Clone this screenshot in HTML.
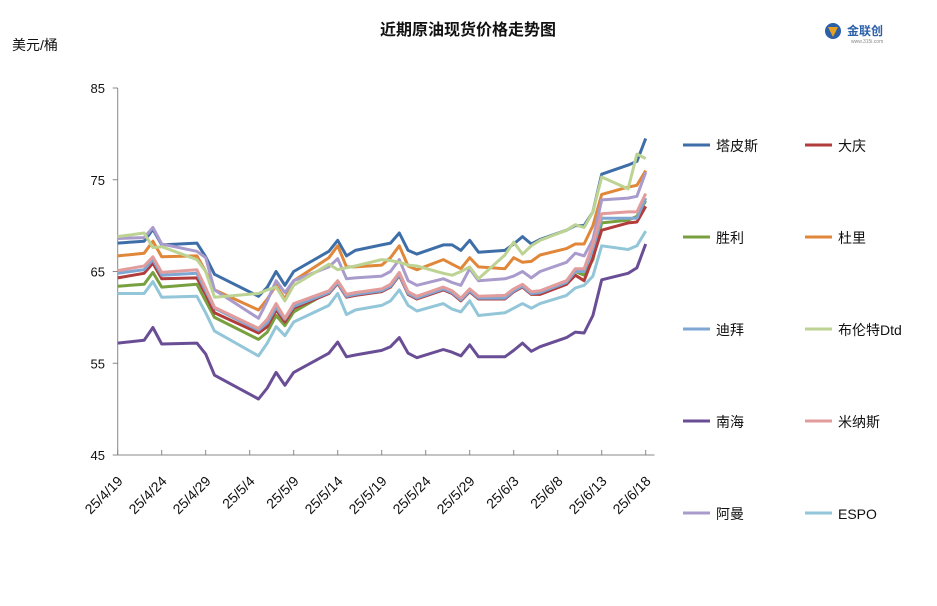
<!DOCTYPE html>
<html><head><meta charset="utf-8">
<style>
body{margin:0;background:#fff;}
svg text{font-family:"Liberation Sans","Noto Sans CJK SC",sans-serif;}
</style></head>
<body>
<svg id="chart" width="937" height="601" viewBox="0 0 937 601" xmlns="http://www.w3.org/2000/svg">
<rect width="937" height="601" fill="#fff"/>
<text x="468" y="35" text-anchor="middle" font-size="16" font-weight="bold" fill="#111">近期原油现货价格走势图</text>
<text x="12" y="50" font-size="14" fill="#111">美元/桶</text>
<g>
<circle cx="833" cy="31" r="8" fill="#2b5fa8"/>
<path d="M828 27 L838 27 L833 37 Z" fill="#e8a020"/>
<text x="847" y="35" font-size="12" font-weight="bold" fill="#2b5fa8">金联创</text>
<text x="851" y="43" font-size="5" fill="#888">www.315i.com</text>
</g>
<g id="axes"></g>
<g id="series"></g>
<g id="legend"></g>
</svg>
<script>
const days=[0,3,4,5,9,10,11,16,17,18,19,20,24,25,26,27,30,31,32,33,34,37,38,39,40,41,44,45,46,47,48,51,52,53,54,55,58,59,60];
const tickLabels=["25/4/19","25/4/24","25/4/29","25/5/4","25/5/9","25/5/14","25/5/19","25/5/24","25/5/29","25/6/3","25/6/8","25/6/13","25/6/18"];
const yTicks=[45,55,65,75,85];
const seriesNames=["塔皮斯","大庆","胜利","杜里","迪拜","布伦特Dtd","南海","米纳斯","阿曼","ESPO"];
const tapis=[68.1,68.3,69.6,67.9,68.1,66.6,64.7,62.3,63.3,65.0,63.5,65.0,67.2,68.4,66.7,67.3,67.9,68.1,69.2,67.3,66.9,67.9,67.9,67.3,68.4,67.1,67.3,68.0,68.8,68.0,68.5,69.5,70.0,70.0,71.5,75.6,76.6,77.0,79.5];
const daqing=[64.3,64.8,65.9,64.2,64.3,62.5,60.5,58.3,59.0,60.8,59.5,61.0,62.6,63.7,62.2,62.4,62.8,63.3,64.6,62.5,62.0,63.0,62.6,61.8,62.8,62.0,62.0,62.8,63.3,62.5,62.5,63.6,64.6,64.0,66.5,69.5,70.3,70.4,72.1];
const shengli=[63.4,63.6,64.9,63.3,63.6,61.8,60.0,57.6,58.4,60.2,59.1,60.6,62.8,63.8,62.4,62.7,63.0,63.3,64.6,62.7,62.3,63.2,62.8,62.0,62.9,62.2,62.3,62.8,63.4,62.7,62.8,63.9,65.0,64.6,66.3,70.3,70.6,71.0,72.7];
const duri=[66.7,67.0,68.3,66.6,66.7,65.0,63.0,60.8,62.0,63.5,62.0,64.0,66.5,67.8,65.5,65.5,65.7,66.5,67.8,65.6,65.2,66.3,65.8,65.3,66.5,65.5,65.3,66.5,66.0,66.1,66.8,67.5,68.0,68.0,70.0,73.4,74.2,74.4,76.0];
const dubai=[64.8,65.2,66.3,64.6,64.8,62.9,61.0,58.6,59.4,61.1,59.8,61.2,62.7,63.8,62.3,62.5,62.9,63.4,64.7,62.6,62.1,63.1,62.7,61.9,62.9,62.1,62.1,62.9,63.4,62.6,62.7,63.8,65.0,65.0,67.5,70.8,70.8,70.8,73.0];
const brent=[68.8,69.2,67.6,67.7,66.3,65.0,62.2,62.6,63.0,63.3,61.8,63.5,65.8,65.2,65.4,65.6,66.3,66.2,66.0,65.7,65.6,64.8,64.6,65.0,65.5,64.2,66.8,68.2,66.9,67.8,68.4,69.5,70.1,69.8,71.5,75.3,74.0,77.8,77.3];
const nanhai=[57.2,57.5,58.9,57.1,57.2,56.0,53.7,51.1,52.3,54.0,52.6,54.0,56.1,57.3,55.7,55.9,56.4,56.8,57.8,56.1,55.6,56.5,56.2,55.8,57.0,55.7,55.7,56.4,57.2,56.3,56.8,57.8,58.4,58.3,60.2,64.1,64.8,65.4,68.0];
const minas=[65.1,65.6,66.6,64.9,65.2,63.2,61.1,58.8,59.8,61.5,59.9,61.5,62.9,64.0,62.5,62.7,63.1,63.6,64.9,62.8,62.3,63.3,62.9,62.1,63.1,62.3,62.4,63.1,63.6,62.8,62.9,64.0,65.3,65.3,68.0,71.3,71.5,71.5,73.5];
const oman=[68.6,68.7,69.8,68.0,67.2,66.5,63.0,59.9,61.8,64.0,62.7,64.0,65.5,66.4,64.2,64.3,64.5,65.0,66.3,64.0,63.5,64.2,63.8,63.5,65.3,64.0,64.2,64.5,65.0,64.3,65.0,66.0,67.0,66.7,68.5,72.8,73.0,73.2,75.8];
const espo=[62.6,62.6,63.9,62.2,62.3,60.5,58.5,55.8,57.2,59.0,58.0,59.5,61.3,62.6,60.3,60.8,61.3,61.8,63.0,61.3,60.7,61.5,60.9,60.6,61.8,60.2,60.5,61.0,61.5,61.0,61.5,62.4,63.2,63.5,64.5,67.8,67.4,67.8,69.4];

const NS='http://www.w3.org/2000/svg';
const X0=117.7, DX=8.8, Y85=88, Y45=455;
function xs(d){return X0+d*DX;}
function ys(v){return Y45-(v-45)*(Y45-Y85)/40;}
function mk(tag,attrs,parent){const e=document.createElementNS(NS,tag);for(const k in attrs)e.setAttribute(k,attrs[k]);parent.appendChild(e);return e;}

const axes=document.getElementById('axes');
let yl=mk('line',{x1:X0,y1:Y85,x2:X0,y2:Y45,stroke:'#888','stroke-width':1},axes);


let xl=mk('line',{x1:X0,y1:Y45,x2:xs(61),y2:Y45,stroke:'#888','stroke-width':1},axes);


yTicks.forEach(v=>{
  const t=mk('line',{x1:X0-5,y1:ys(v),x2:X0,y2:ys(v),stroke:'#888'},axes);
  
  
  const l=mk('text',{x:105,y:ys(v)+5,'text-anchor':'end','font-size':13,fill:'#111'},axes);
  l.textContent=v;
  
  
});
tickLabels.forEach((s,i)=>{
  const d=i*5;
  const t=mk('line',{x1:xs(d),y1:Y45,x2:xs(d),y2:Y45-5,stroke:'#888'},axes);
  
  
  const ax=xs(d)+6, ay=482;
  const l=mk('text',{x:ax,y:ay,'text-anchor':'end','font-size':14,fill:'#111',transform:`rotate(-45 ${ax} ${ay})`},axes);
  l.textContent=s;
  
  
});

const allSeries=[tapis,daqing,shengli,duri,dubai,brent,nanhai,minas,oman,espo];
const colors=['#3e6ea8','#b23b3b','#78a03f','#e0873a','#7ea7d4','#bcd394','#6a4e95','#e29c9c','#a99bcc','#92c6d8'];
const order=[9,6,0,3,8,2,1,4,7,5];
const sg=document.getElementById('series');
order.forEach(i=>{
  const pts=allSeries[i].map((v,k)=>xs(days[k]).toFixed(1)+','+ys(v).toFixed(1)).join(' ');
  const p=mk('polyline',{points:pts,fill:'none',stroke:colors[i],'stroke-width':3,'stroke-linejoin':'round'},sg);
  
  
});
const lg=document.getElementById('legend');
seriesNames.forEach((n,i)=>{
  const col=i%2, row=Math.floor(i/2);
  const lx=col?805:683, ly=145+row*92;
  const g=mk('g',{},lg);
  
  
  mk('line',{x1:lx,y1:ly,x2:lx+27,y2:ly,stroke:colors[i],'stroke-width':3},g);
  const t=mk('text',{x:lx+33,y:ly+6,'font-size':14,fill:'#111'},g);
  t.textContent=n;
});
</script>
</body></html>
